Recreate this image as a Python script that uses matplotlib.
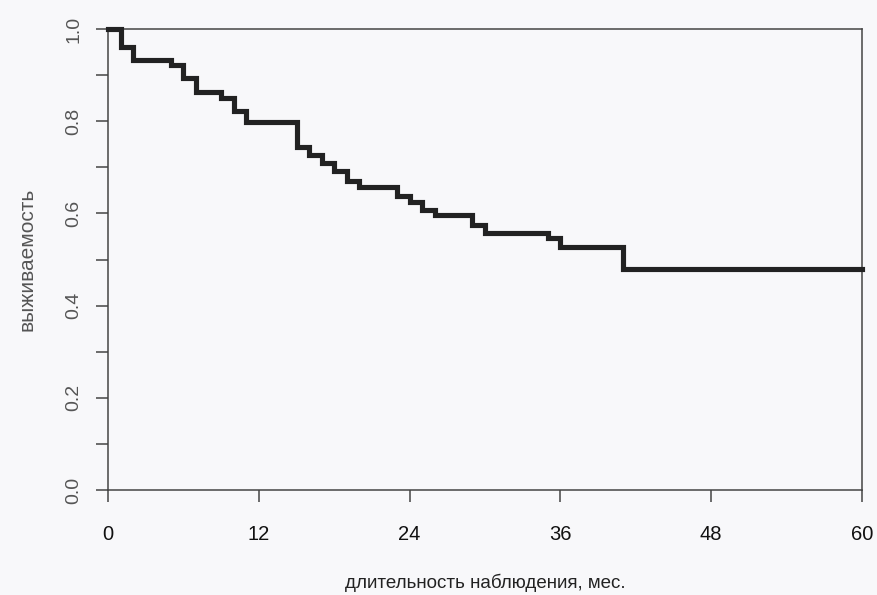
import matplotlib
matplotlib.use("Agg")
import matplotlib.pyplot as plt
import numpy as np

plt.rcParams['font.family'] = ['Liberation Sans', 'DejaVu Sans']

# Kaplan-Meier estimate (months, survival)
event_months = [0, 1, 2, 5, 6, 7, 9, 10, 11, 15, 16, 17, 18, 19, 20,
                23, 24, 25, 26, 29, 30, 35, 36, 41]
survival = [1.0, 0.962, 0.933, 0.922, 0.894, 0.863, 0.850, 0.822, 0.799,
            0.745, 0.727, 0.709, 0.692, 0.671, 0.658, 0.638, 0.624, 0.607,
            0.597, 0.575, 0.557, 0.546, 0.528, 0.479]
follow_up_end = 60

x_ticks = [0, 12, 24, 36, 48, 60]
y_ticks = [0.0, 0.1, 0.2, 0.3, 0.4, 0.5, 0.6, 0.7, 0.8, 0.9, 1.0]
y_ticklabels = ['0.0', '', '0.2', '', '0.4', '', '0.6', '', '0.8', '', '1.0']

W, H = 877, 595
fig = plt.figure(figsize=(W / 100, H / 100), dpi=100, facecolor='#f8f8fa')
# plot box in pixels: x 108..862, y 29..490
ax = fig.add_axes([108 / W, (H - 490) / H, (862 - 108) / W, (490 - 29) / H])
ax.set_facecolor('#f8f8fa')

t = event_months + [follow_up_end]
s = survival + [survival[-1]]
ax.step(t, s, where='post', color='#222222', lw=3.7, solid_joinstyle='miter',
        clip_on=False, zorder=3)

ax.set_xlim(0, 60)
ax.set_ylim(0, 1)
for sp in ax.spines.values():
    sp.set_color('#444444')
    sp.set_linewidth(1.1)

ax.set_xticks(x_ticks)
ax.set_yticks(y_ticks)
ax.set_yticklabels(y_ticklabels, rotation=90, va='center', color='#555555')
ax.tick_params(axis='both', direction='out', length=8.5, width=1.1,
               color='#444444', labelsize=14)
ax.tick_params(axis='x', pad=17, labelcolor='#111111', labelsize=14.5)
ax.tick_params(axis='y', pad=10)

ax.set_xlabel('длительность наблюдения, мес.', fontsize=13.5, color='#222222',
              labelpad=21)
ax.set_ylabel('выживаемость', fontsize=15, color='#555555', labelpad=21)

fig.savefig('out.png', dpi=100, facecolor=fig.get_facecolor())
